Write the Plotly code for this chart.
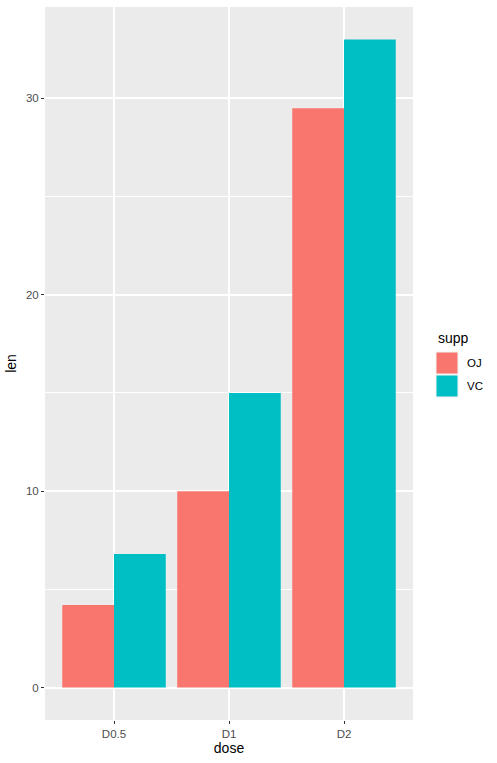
import plotly.graph_objects as go

doses = ["D0.5", "D1", "D2"]
oj = [4.2, 10.0, 29.5]
vc = [6.8, 15.0, 33.0]
y_ticks = [0, 10, 20, 30]
supp_names = ["OJ", "VC"]
colors = ["#F8766D", "#00BFC4"]

fig = go.Figure()
for name, vals, col in zip(supp_names, [oj, vc], colors):
    fig.add_trace(go.Bar(x=doses, y=vals, name=name, marker=dict(color=col, line=dict(width=0)),
                         showlegend=False))

L, R, T, B = 45, 84, 7, 43
W, H = 497, 763
fig.update_layout(
    width=W, height=H,
    margin=dict(l=L, r=R, t=T, b=B, pad=0),
    paper_bgcolor="white", plot_bgcolor="#EBEBEB",
    barmode="group", bargap=0.1, bargroupgap=0,
    font=dict(family="Liberation Sans, Arial, sans-serif", color="#4D4D4D", size=11),
)
fig.update_xaxes(
    type="category", range=[-0.6, 2.6],
    showgrid=True, gridcolor="white", gridwidth=2,
    ticks="outside", ticklen=3, tickcolor="#333333", tickwidth=1,
    tickfont=dict(size=11.5, color="#4D4D4D"),
    title=dict(text="dose", font=dict(size=14, color="black"), standoff=4),
    zeroline=False, showline=False,
)
fig.update_yaxes(
    range=[-1.65, 34.65], tickvals=y_ticks,
    showgrid=True, gridcolor="white", gridwidth=2,
    minor=dict(showgrid=True, gridcolor="white", gridwidth=1, dtick=5, tick0=5),
    ticks="outside", ticklen=3, tickcolor="#333333", tickwidth=1,
    tickfont=dict(size=11.5, color="#4D4D4D"),
    title=dict(text="len", font=dict(size=14, color="black"), standoff=6),
    zeroline=False, showline=False,
)

PW, PH = W - L - R, H - T - B
def px(x):
    return (x - L) / PW
def py(y):
    return (H - B - y) / PH

fig.add_annotation(xref="paper", yref="paper", x=px(436), y=py(338),
                   text="supp", showarrow=False, xanchor="left", yanchor="middle",
                   font=dict(size=14, color="black"))
key_tops = [352, 375]
for i, (name, col) in enumerate(zip(supp_names, colors)):
    top = key_tops[i]
    fig.add_shape(type="rect", xref="paper", yref="paper",
                  x0=px(436), x1=px(458), y0=py(top), y1=py(top + 22),
                  fillcolor=col, line=dict(color="#F2F2F2", width=1))
    fig.add_annotation(xref="paper", yref="paper", x=px(465), y=py(top + 11),
                       text=name, showarrow=False, xanchor="left", yanchor="middle",
                       font=dict(size=11.5, color="black"))

fig.write_html("out.html")
